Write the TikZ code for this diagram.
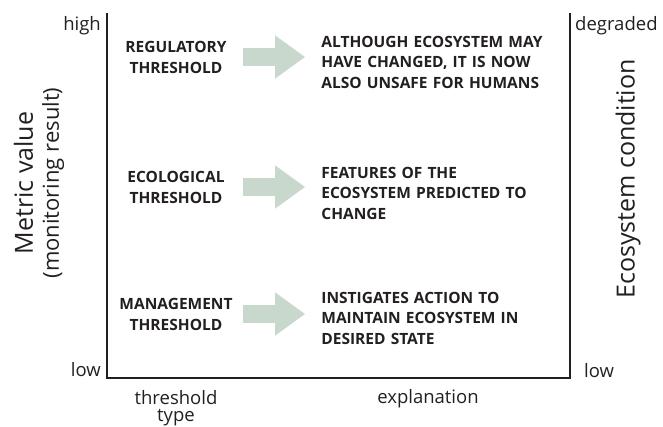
\documentclass[tikz,border=0pt]{standalone}
\usepackage{fontspec}
\setmainfont{Open Sans}
\usetikzlibrary{arrows.meta, positioning}
\definecolor{ink}{HTML}{231F20}
\definecolor{sage}{RGB}{201,216,205}
\begin{document}
\begin{tikzpicture}[x=1pt, y=-1pt, every node/.style={text=ink, inner sep=0pt},
  small/.style={font=\fontsize{18.5}{17}\selectfont},
  big/.style={font=\fontsize{25}{26}\selectfont},
  thr/.style={font=\bfseries\fontsize{15.5}{21}\selectfont, align=center, text width=128pt},
  expl/.style={font=\bfseries\fontsize{15.5}{20.5}\selectfont, align=left, text width=250pt},
  fat/.style={draw=sage, line width=18pt, -{Triangle[length=30pt, width=41pt]}, shorten <=3pt, shorten >=16pt},
  axis/.style={draw=ink, line width=2.8pt}]
\useasboundingbox (0,0) rectangle (663,426);
\coordinate (tl) at (107,13);
\coordinate (bl) at (107,378);
\coordinate (br) at (570,378);
\coordinate (tr) at (570,13);
\draw[axis] (tl) -- (bl) -- (br) -- (tr);
\node[small, anchor=east] (high) at (101,25.5) {high};
\node[small, anchor=east] (low) at (101,370) {low};
\node[small, anchor=west] (degr) at (575,25.5) {degraded};
\node[small, anchor=west] (good) at (584,371) {low};
\node[small, align=center, anchor=north] (type) at (176,390) {threshold\\type};
\node[small, anchor=north] (explan) at (428,389) {explanation};
\node[big, rotate=90, align=center] (metric) at (39,183) {Metric value\\{\fontsize{22}{26}\selectfont (monitoring result)}};
\node[big, rotate=90] (cond) at (628,179) {Ecosystem condition};
\node[thr] (reg) at (176,57) {REGULATORY\\THRESHOLD};
\node[thr] (eco) at (176,187) {ECOLOGICAL\\THRESHOLD};
\node[thr] (man) at (176,314) {MANAGEMENT\\THRESHOLD};
\node[expl, right=81pt of reg, yshift=-5pt] (regtxt) {ALTHOUGH ECOSYSTEM MAY\\HAVE CHANGED, IT IS NOW\\ALSO UNSAFE FOR HUMANS};
\node[expl, right=81pt of eco, yshift=-6pt] (ecotxt) {FEATURES OF THE\\ECOSYSTEM PREDICTED TO\\CHANGE};
\node[expl, right=81pt of man, yshift=-4pt] (mantxt) {INSTIGATES ACTION TO\\MAINTAIN ECOSYSTEM IN\\DESIRED STATE};
\draw[fat] (reg.east) -- (reg.east -| regtxt.west);
\draw[fat] (eco.east) -- (eco.east -| ecotxt.west);
\draw[fat] (man.east) -- (man.east -| mantxt.west);
\end{tikzpicture}
\end{document}
